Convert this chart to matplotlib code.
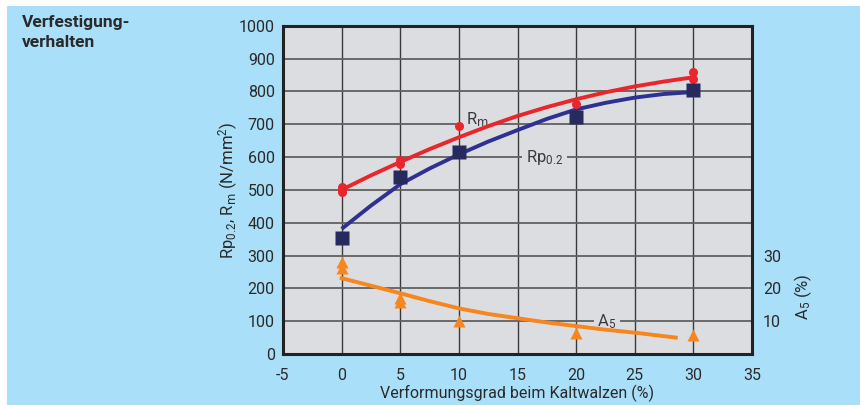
import matplotlib
matplotlib.use("Agg")
import matplotlib.pyplot as plt
from matplotlib.patches import Rectangle

plt.rcParams['font.family'] = ['Roboto', 'DejaVu Sans']
plt.rcParams['mathtext.default'] = 'regular'

# --- data ---
rm_x = [0, 0, 0, 5, 5, 10, 20, 30, 30]
rm_y = [510, 493, 500, 591, 579, 693, 762, 859, 838]
rp_x = [0, 5, 10, 20, 30]
rp_y = [354, 540, 616, 722, 805]
a5_x = [0, 0, 5, 5, 10, 20, 30]
a5_y = [28.1, 26.2, 17.0, 15.9, 10.1, 6.5, 5.8]

curve_x = [0, 2.5, 5, 7.5, 10, 12.5, 15, 17.5, 20, 22.5, 25, 27.5, 30]
rm_curve = [500, 544, 585, 624, 660, 694, 725, 752, 776, 797, 815, 830, 843]
rp_curve = [381, 452, 517, 565, 608, 647, 682, 716, 745, 765, 781, 792, 798]
a5_curve_x = [0, 2.5, 5, 7.5, 10, 12.5, 15, 17.5, 20, 22.5, 25, 28.5]
a5_curve = [23.1, 20.8, 18.5, 16.1, 13.9, 12.2, 10.9, 9.6, 8.5, 7.4, 6.5, 5.0]

x_ticks = [-5, 0, 5, 10, 15, 20, 25, 30, 35]
y_ticks = [0, 100, 200, 300, 400, 500, 600, 700, 800, 900, 1000]
a5_ticks = [10, 20, 30]

BG = '#a9dff8'
AX_BG = '#dcdde0'
TXT = '#2a2a2a'
RED = '#e8262c'
BLUE = '#2e3192'
NAVY = '#262a5c'
ORANGE = '#f7861f'

fig = plt.figure(figsize=(8.6, 4.05), dpi=100)
fig.patch.set_facecolor('white')
fig.patches.append(Rectangle((7/860, 0), 1, (405-6)/405, transform=fig.transFigure,
                             facecolor=BG, edgecolor='none', zorder=-10))

ax = fig.add_axes([283/860, 1-354/405, (752-283)/860, (354-25.7)/405])
ax.set_facecolor(AX_BG)
ax.set_xlim(-5, 35)
ax.set_ylim(0, 1000)
ax.set_xticks(x_ticks)
ax.set_yticks(y_ticks)
ax.set_xticklabels([str(v) for v in x_ticks])
ax.tick_params(axis='y', length=0, labelsize=11.5, labelcolor=TXT, pad=6)
ax.tick_params(axis='x', length=0, labelsize=11.5, labelcolor=TXT, pad=10)
ax.xaxis.grid(True, color='#3a3a3a', lw=1.0)
ax.yaxis.grid(True, color='#606060', lw=1.3)
ax.set_axisbelow(True)
for s in ax.spines.values():
    s.set_color('#222222')
    s.set_linewidth(2.2)

ax.set_xlabel('Verformungsgrad beim Kaltwalzen (%)', fontsize=11.5, color=TXT, labelpad=1)
ax.set_ylabel(r'Rp$_{0.2}$, R$_\mathrm{m}$ (N/mm$^2$)', fontsize=12, color=TXT)
ax.yaxis.set_label_coords(-0.092, 0.5)

ax.plot(curve_x, rm_curve, color=RED, lw=2.8, zorder=3, solid_capstyle='butt')
ax.plot(curve_x, rp_curve, color=BLUE, lw=2.8, zorder=3, solid_capstyle='butt')
ax.plot(rm_x, rm_y, 'o', color=RED, ms=6.5, zorder=4, mec='none')
ax.plot(rp_x, rp_y, 's', color=NAVY, ms=9.5, zorder=4, mec='none')

ax2 = ax.twinx()
ax2.set_ylim(0, 100)
ax2.set_yticks(a5_ticks)
ax2.tick_params(length=0, labelsize=11.5, labelcolor=TXT, pad=8)
for s in ax2.spines.values():
    s.set_visible(False)
ax2.set_ylabel(r'A$_5$ (%)', fontsize=12, color=TXT)
ax2.yaxis.set_label_coords(1.087, 0.175)
ax2.plot(a5_curve_x, a5_curve, color=ORANGE, lw=2.8, zorder=3)
ax2.plot(a5_x, a5_y, '^', color=ORANGE, ms=8.5, zorder=4, mec='none')

box = dict(facecolor=AX_BG, edgecolor='none', pad=2.5)
ax.text(11.6, 714, r'R$_\mathrm{m}$', fontsize=12, color='#3a3a3a', ha='center', va='center', bbox=box, zorder=2.5)
ax.text(17.3, 600, r'Rp$_{0.2}$', fontsize=12, color='#3a3a3a', ha='center', va='center', bbox=box, zorder=2.5)
ax2.text(22.6, 10, r'A$_5$', fontsize=12, color='#3a3a3a', ha='center', va='center', bbox=box, zorder=2.5)

fig.text(22/860, 1-15/405, 'Verfestigung-\nverhalten', fontsize=12.5, fontweight='bold',
         color=TXT, ha='left', va='top', linespacing=1.45)

fig.savefig('out.png', dpi=100, facecolor=fig.get_facecolor())
